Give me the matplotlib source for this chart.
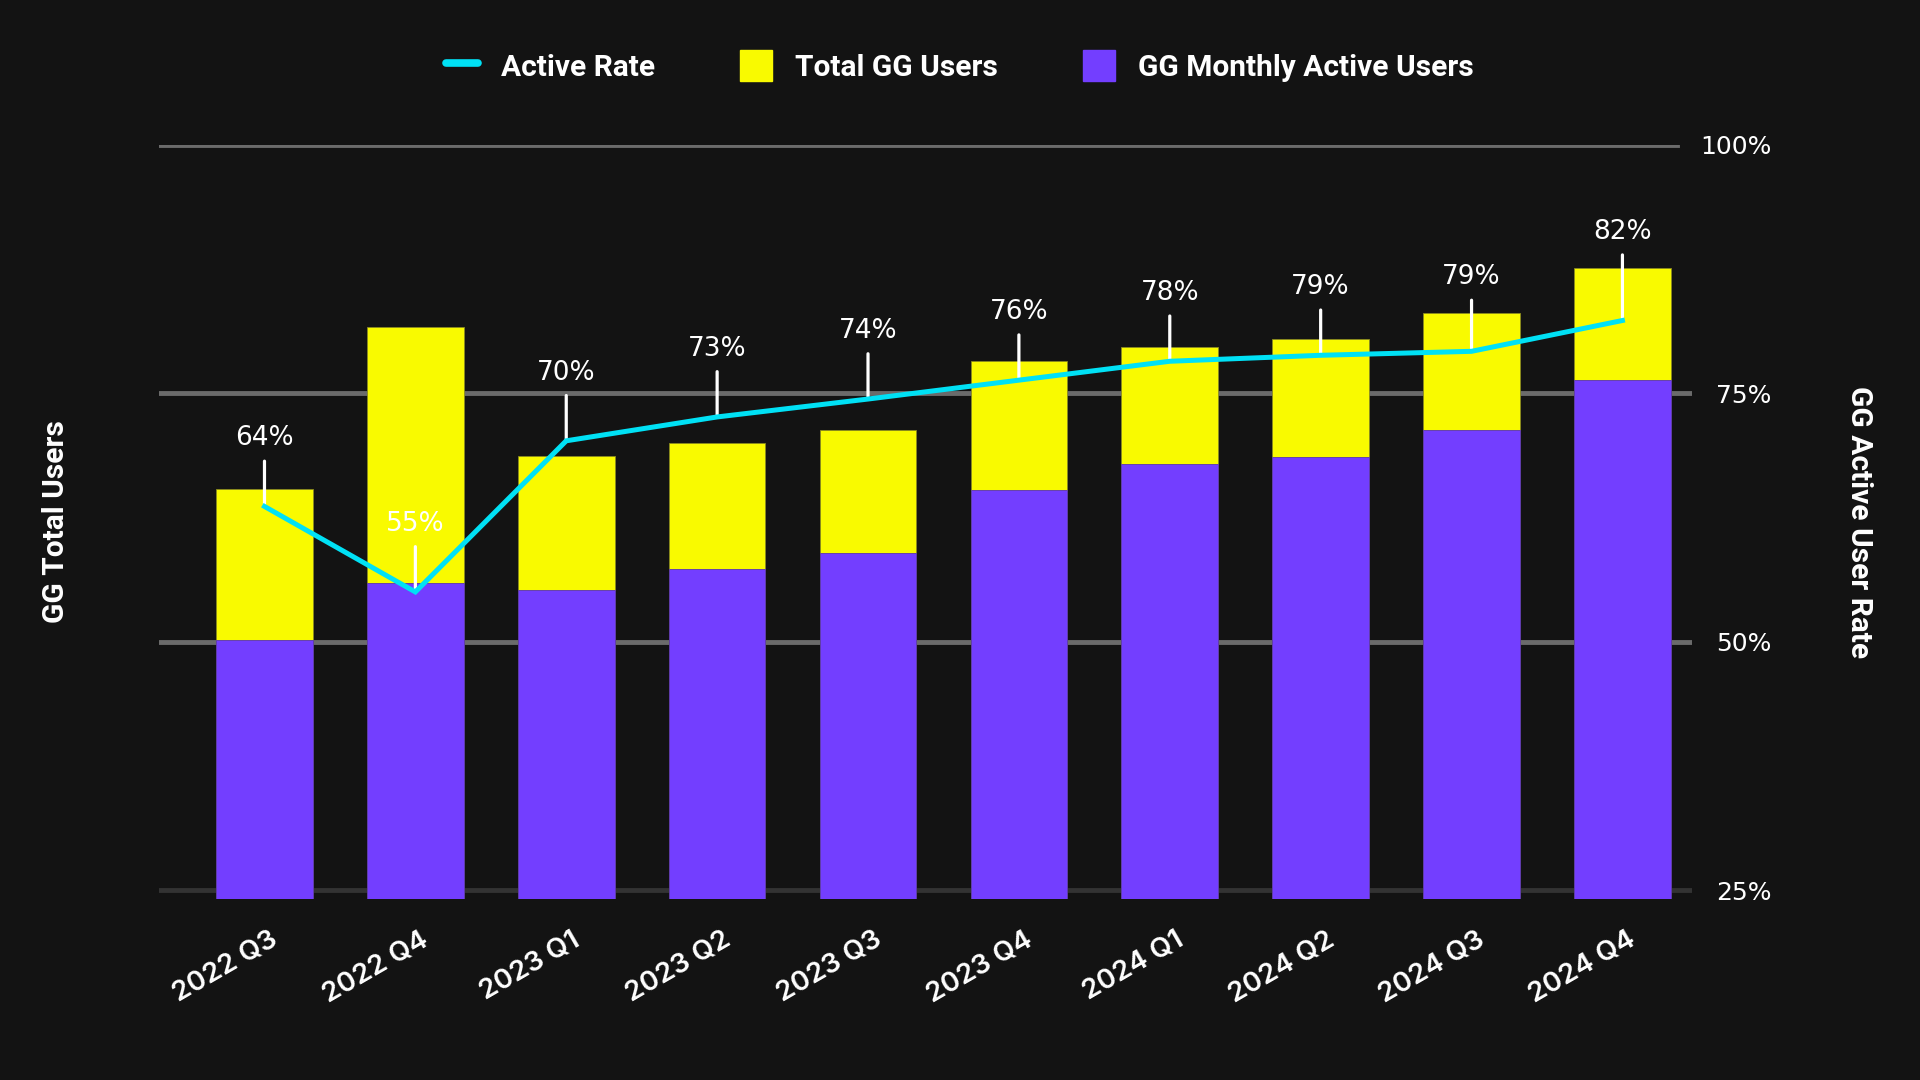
import matplotlib
matplotlib.use("Agg")
import matplotlib.pyplot as plt
import matplotlib.transforms as mtransforms
from matplotlib.lines import Line2D
from matplotlib.patches import Patch

# ---- data ----
quarters = ["2022 Q3", "2022 Q4", "2023 Q1", "2023 Q2", "2023 Q3",
            "2023 Q4", "2024 Q1", "2024 Q2", "2024 Q3", "2024 Q4"]
total_users = [335, 467, 362, 372, 383, 439, 451, 457, 478, 515]
monthly_active = [211, 258, 252, 269, 282, 334, 355, 361, 383, 424]
active_rate = [63.6, 55.0, 70.2, 72.6, 74.4, 76.3, 78.2, 78.8, 79.2, 82.3]
rate_ticks = [25, 50, 75, 100]

BG = "#131313"
YELLOW = "#F9FA00"
PURPLE = "#733EFF"
CYAN = "#00E1F5"
GRID = "#6B6B6B"
GRID_BOTTOM = "#333333"

plt.rcParams['font.family'] = ['Inter', 'DejaVu Sans']

fig = plt.figure(figsize=(19.2, 10.8), dpi=100, facecolor=BG)
ax = fig.add_axes([0.0829, 0.1678, 0.8814 - 0.0829, 0.8662 - 0.1678])
ax.set_facecolor(BG)
ax2 = ax.twinx()

x = list(range(len(quarters)))

ax.set_zorder(1)
ax2.set_zorder(2)
ax2.patch.set_visible(False)

RMIN, RMAX = 24.14, 100
LTOP = 616
ax.set_xlim(-0.698, 9.463)
ax.set_ylim(0, LTOP)
ax2.set_ylim(RMIN, RMAX)

# gridlines at the rate ticks, drawn behind the bars
for t in rate_ticks:
    col = GRID_BOTTOM if t == rate_ticks[0] else GRID
    xmax = 0.990 if t == rate_ticks[-1] else 1.0
    ax.axhline((t - RMIN) / (RMAX - RMIN) * LTOP, color=col, lw=3.5, xmax=xmax, zorder=0)

bw = 0.64
ax.bar(x, total_users, width=bw, color=YELLOW, edgecolor="#8a8a20", linewidth=0.6, zorder=2)
ax.bar(x, monthly_active, width=bw, color=PURPLE, edgecolor="#5a35b0", linewidth=0.6, zorder=3)

ax2.plot(x, active_rate, color=CYAN, lw=3.6, zorder=5, solid_joinstyle='miter')

# label leaders: a minimum length; lengthened to clear a bar top that is close above
MIN_LEAD = 45   # px
CLEAR = 13      # px above bar top
NEAR = 90       # px
for xi, r, tot in zip(x, active_rate, total_users):
    py = ax2.transData.transform((xi, r))[1]
    by = ax.transData.transform((xi, tot))[1]
    need = by - py + CLEAR
    lead = max(MIN_LEAD, need) if need < NEAR else MIN_LEAD
    ax2.annotate(f"{round(r)}%", xy=(xi, r), xytext=(0, lead + 10), textcoords="offset pixels",
                 ha="center", va="bottom", color="white", fontsize=19,
                 family=['DejaVu Sans'],
                 arrowprops=dict(arrowstyle="-", color="white", lw=2.3,
                                 shrinkA=5, shrinkB=0),
                 zorder=4)

for a in (ax, ax2):
    for s in a.spines.values():
        s.set_visible(False)
ax.set_yticks([])
ax.set_xticks(x)
ax.set_xticklabels(quarters, rotation=30, ha="right", rotation_mode="anchor",
                   color="white", fontsize=20, fontweight=600)
ax.tick_params(axis="x", length=0, pad=20)
shift = mtransforms.ScaledTranslation(5 / 100, 0, fig.dpi_scale_trans)
for lab in ax.get_xticklabels():
    lab.set_transform(lab.get_transform() + shift)

ax2.set_yticks(rate_ticks)
ax2.set_yticklabels([f"{t}%" for t in rate_ticks], color="white", fontsize=18,
                    family=['DejaVu Sans'])
ax2.tick_params(axis="y", length=0, pad=57)
for lab in ax2.get_yticklabels():
    lab.set_horizontalalignment("right")

ax.set_ylabel("GG Total Users", color="white", fontsize=21.5, fontweight="bold",
              family=['Roboto', 'DejaVu Sans'], labelpad=0)
ax.yaxis.set_label_coords(-0.058, 0.5)
ax2.set_ylabel("GG Active User Rate", color="white", fontsize=21.5, fontweight="bold",
               family=['Roboto', 'DejaVu Sans'], rotation=-90, labelpad=0)
ax2.yaxis.set_label_coords(1.118, 0.5)

handles = [Line2D([0], [0], color=CYAN, lw=5.5, solid_capstyle='round'),
           Patch(facecolor=YELLOW, edgecolor=YELLOW),
           Patch(facecolor=PURPLE, edgecolor=PURPLE)]
labels = ["Active Rate", "Total GG Users", "GG Monthly Active Users"]
leg = fig.legend(handles, labels, loc="center", bbox_to_anchor=(0.5, 0.939), ncol=3,
                 frameon=False, handlelength=1.07, handleheight=1.2,
                 columnspacing=2.83, handletextpad=0.78,
                 prop=dict(family=['Roboto', 'DejaVu Sans'], weight='bold', size=21.5))
for t in leg.get_texts():
    t.set_color("white")

fig.savefig("out.png", dpi=100, facecolor=BG)
